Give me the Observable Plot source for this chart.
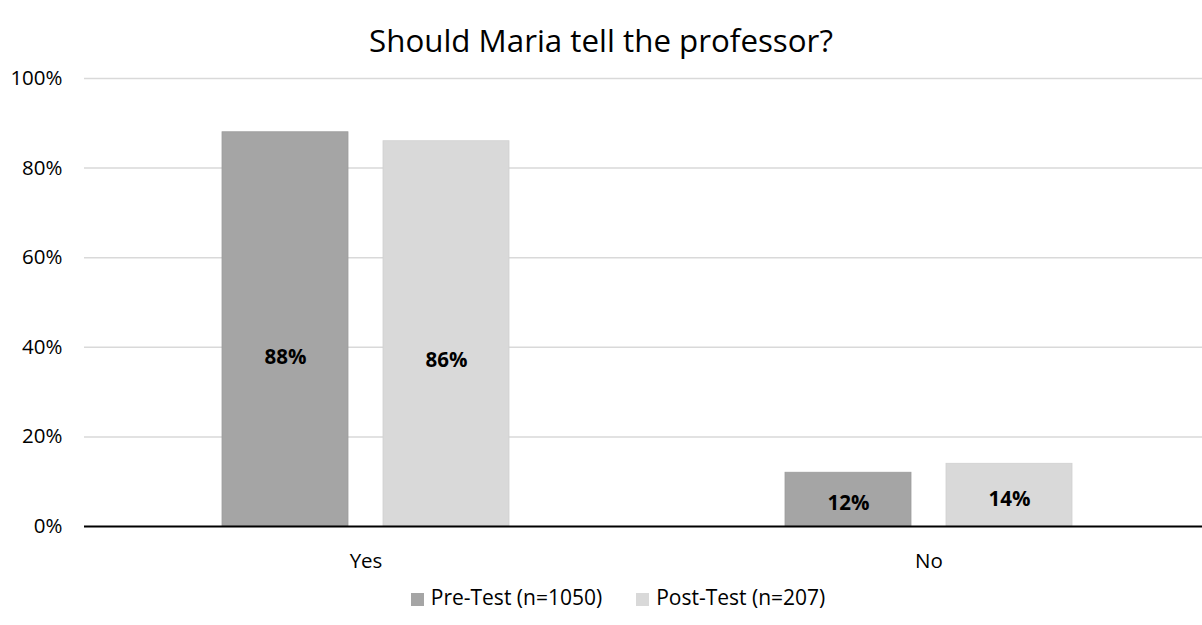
<!DOCTYPE html>
<html>
<head>
<meta charset="utf-8">
<script src="https://cdn.jsdelivr.net/npm/d3@7"></script>
<script src="https://cdn.jsdelivr.net/npm/@observablehq/plot@0.6"></script>
<style>
  html, body { margin: 0; padding: 0; background: #fff; }
  body { width: 1202px; height: 625px; position: relative; overflow: hidden; font-family: "Open Sans", Lato, sans-serif; color: #000; }
  #chart { position: absolute; left: 0; top: 0; z-index: 0; }
  #title { position: absolute; left: 0; width: 1202px; top: 18px; text-align: center; font-size: 31.3px; line-height: 44px; z-index: 1; }
  #legend { position: absolute; left: 17px; width: 1202px; top: 582px; text-align: center; font-size: 21px; line-height: 30px; z-index: 1; white-space: nowrap; }
  .sw { display: inline-block; width: 13px; height: 13px; margin-right: 7px; vertical-align: -1px; }
  .item { display: inline-block; margin: 0 17px; }
</style>
</head>
<body>
<div id="chart"></div>
<div id="title">Should Maria tell the professor?</div>
<div id="legend"></div>
<script>
const categories = ["Yes", "No"];
const seriesNames = ["Pre-Test (n=1050)", "Post-Test (n=207)"];
const preValues = [88, 12];
const postValues = [86, 14];
const yTicks = [0, 20, 40, 60, 80, 100];
const colors = ["#a5a5a5", "#d9d9d9"];
const strokes = ["#9c9c9c", "#d0d0d0"];

const rows = [];
categories.forEach((c, i) => {
  rows.push({category: c, series: seriesNames[0], value: preValues[i], k: 0});
  rows.push({category: c, series: seriesNames[1], value: postValues[i], k: 1});
});

const barW = 126, gap = 35;
const groupW = barW * 2 + gap;
const range = [84, 1210];
const step = (range[1] - range[0]) / categories.length;
const pInner = 1 - groupW / step;

const chart = Plot.plot({
  width: 1202,
  height: 625,
  marginTop: 78,
  marginBottom: 99,
  marginLeft: 84,
  marginRight: 0,
  style: {fontFamily: '"Open Sans", Lato, sans-serif', fontSize: "16px", background: "#fff", color: "#000"},
  x: {domain: categories, range, paddingInner: pInner, paddingOuter: pInner / 2, label: null, axis: null},
  y: {domain: [0, 100], label: null, axis: null},
  marks: [
    Plot.ruleY(yTicks.filter(t => t > 0), {stroke: "#d9d9d9", strokeWidth: 1.5}),
    Plot.barY(rows.filter(d => d.k === 0), {x: "category", y: "value", fill: colors[0], stroke: strokes[0], strokeWidth: 0.8, insetRight: groupW - barW}),
    Plot.barY(rows.filter(d => d.k === 1), {x: "category", y: "value", fill: colors[1], stroke: strokes[1], strokeWidth: 0.8, insetLeft: groupW - barW}),
    Plot.ruleY([0], {stroke: "#000", strokeWidth: 1.8}),
    Plot.text(rows.filter(d => d.k === 0), {x: "category", y: d => d.value * 0.43, text: d => d.value + "%", dx: -(groupW - barW) / 2, fontWeight: "bold", fontSize: 20.5, fill: "#000"}),
    Plot.text(rows.filter(d => d.k === 1), {x: "category", y: d => d.value * 0.43, text: d => d.value + "%", dx: (groupW - barW) / 2, fontWeight: "bold", fontSize: 20.5, fill: "#000"}),
    Plot.text(yTicks, {x: null, y: d => d, frameAnchor: "left", dx: -22, textAnchor: "end", text: d => d + "%", fontSize: 20.5, fill: "#000"}),
    Plot.text(categories, {x: d => d, y: 0, dy: 35, text: d => d, fontSize: 20.5, fill: "#000"})
  ]
});
document.getElementById("chart").appendChild(chart);

const legend = document.getElementById("legend");
seriesNames.forEach((s, i) => {
  const item = document.createElement("span");
  item.className = "item";
  const sw = document.createElement("span");
  sw.className = "sw";
  sw.style.background = colors[i];
  item.appendChild(sw);
  item.appendChild(document.createTextNode(s));
  legend.appendChild(item);
});
</script>
</body>
</html>
